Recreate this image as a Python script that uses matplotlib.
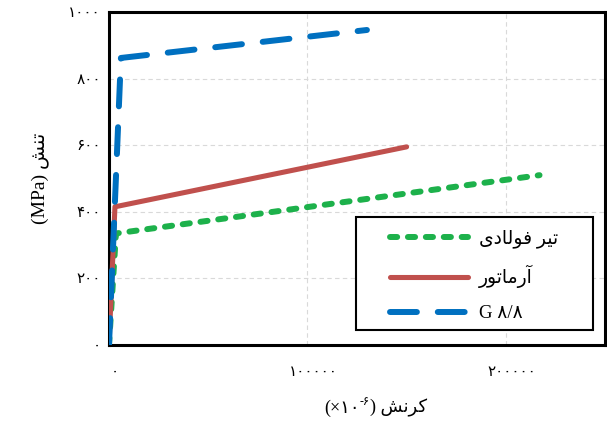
import matplotlib
matplotlib.use("Agg")
import matplotlib.pyplot as plt
import matplotlib.transforms as mtransforms
from matplotlib.patches import Rectangle

# ---- data (strain x1e-6, stress MPa) ----
steel_x = [0, 3500, 217000]
steel_y = [0, 335, 510]
rebar_x = [0, 3000, 150000]
rebar_y = [0, 415, 595]
g88_x = [0, 6000, 130000]
g88_y = [0, 862, 946]

# visual-order (pre-shaped) Persian labels
lbl_steel = "\uFBFC\uFEA9\uFE8E\uFEDF\uFEEE\uFED3 \uFEAE\uFBFF\uFE97"   # تیر فولادی
lbl_rebar = "\uFEAD\uFEEE\uFE97\uFE8E\uFEE3\uFEAD\uFE81"               # آرماتور
lbl_g88 = "G \u06F8/\u06F8"
ylabel_txt = "(MPa) \uFEB6\uFEE8\uFE97"                                 # تنش (MPa)
xlabel_a = "(\u00D7\u06F1\u06F0"
xlabel_sup = "-\u06F6"
xlabel_b = ") \uFEB6\uFEE7\uFEAE\uFB90"                                  # کرنش

xticks = [0, 100000, 200000]
xtick_labels = ["\u06F0", "\u06F1\u06F0\u06F0\u06F0\u06F0\u06F0", "\u06F2\u06F0\u06F0\u06F0\u06F0\u06F0"]
yticks = [0, 200, 400, 600, 800, 1000]
ytick_labels = ["\u06F0", "\u06F2\u06F0\u06F0", "\u06F4\u06F0\u06F0", "\u06F6\u06F0\u06F0", "\u06F8\u06F0\u06F0", "\u06F1\u06F0\u06F0\u06F0"]

FAM = ["Liberation Serif", "DejaVu Sans"]
plt.rcParams["font.family"] = FAM

W, H = 607, 423
fig = plt.figure(figsize=(W / 100, H / 100), dpi=100)
ax = fig.add_axes([109 / W, 1 - 345 / H, (605 - 109) / W, (345 - 12) / H])

green = "#1db14b"
red = "#c0504d"
blue = "#0070c0"
lw = 4.3

l1, = ax.plot(steel_x, steel_y, color=green, lw=lw, solid_capstyle="round",
              dash_capstyle="round", dashes=(1.2, 1.8), zorder=3)
l2, = ax.plot(rebar_x, rebar_y, color=red, lw=lw * 0.85, solid_capstyle="round", zorder=4)
l3, = ax.plot(g88_x, g88_y, color=blue, lw=lw, dash_capstyle="round",
              dashes=(4.5, 3.5), zorder=5)

ax.set_xlim(0, 250000)
ax.set_ylim(0, 1000)
ax.set_xticks(xticks)
ax.set_xticklabels(xtick_labels, fontsize=11)
ax.set_yticks(yticks)
ax.set_yticklabels(ytick_labels, fontsize=11)
ax.tick_params(axis="x", length=0, pad=15)
ax.tick_params(axis="y", length=0, pad=6)
shift = mtransforms.ScaledTranslation(6 / 100, 0, fig.dpi_scale_trans)
for lab in ax.get_xticklabels():
    lab.set_transform(lab.get_transform() + shift)
ax.grid(True, color="#d9d9d9", linestyle=(0, (4, 3)), lw=0.8)
ax.set_axisbelow(True)
for s in ax.spines.values():
    s.set_linewidth(2.2)
    s.set_color("black")

ax.set_ylabel(ylabel_txt, fontsize=14, labelpad=14)

# x label built from pieces (superscript exponent)
t1 = fig.text(324 / W, 6 / H, xlabel_a, fontsize=13, va="bottom", ha="left")
t2 = ax.annotate(xlabel_sup, xy=(1.0, 0.5), xycoords=t1, fontsize=8.5,
                 va="bottom", ha="left", annotation_clip=False)
t3 = ax.annotate(xlabel_b, xy=(1.0, 0.0), xycoords=(t2, t1), fontsize=13,
                 va="bottom", ha="left", annotation_clip=False)

# legend box
rect = Rectangle((356 / W, 1 - 330 / H), (593 - 356) / W, (330 - 217) / H,
                 transform=fig.transFigure, facecolor="white", edgecolor="black",
                 lw=1.5, zorder=10)
fig.patches.append(rect)
leg = fig.legend([l1, l2, l3], [lbl_steel, lbl_rebar, lbl_g88],
                 loc="upper left", bbox_to_anchor=(382 / W, 1 - 222 / H),
                 frameon=False, fontsize=13.5, handlelength=4.2, handletextpad=0.55,
                 labelspacing=0.9, borderaxespad=0)
leg.set_zorder(11)

fig.savefig("out.png", dpi=100)
